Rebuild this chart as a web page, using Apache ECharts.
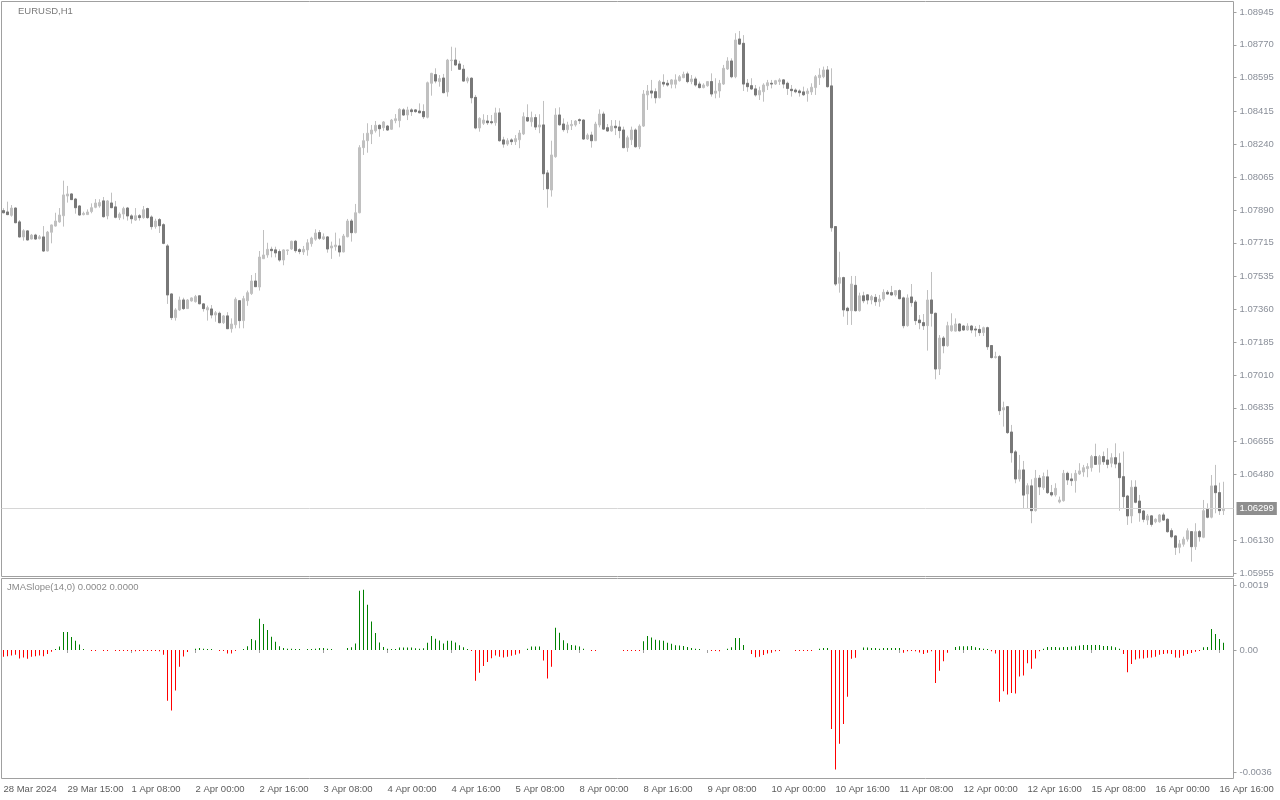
<!DOCTYPE html>
<html><head><meta charset="utf-8">
<script src="https://cdn.jsdelivr.net/npm/echarts@6/dist/echarts.min.js"></script>
<style>html,body{margin:0;padding:0;background:#fff}#c{width:1280px;height:800px}</style>
</head><body><div id="c"></div>
<script>
const symbolTitle = 'EURUSD,H1';
const indicatorTitle = 'JMASlope(14,0) 0.0002 0.0000';
const tickLabels = ['28 Mar 2024','29 Mar 15:00','1 Apr 08:00','2 Apr 00:00','2 Apr 16:00','3 Apr 08:00','4 Apr 00:00','4 Apr 16:00','5 Apr 08:00','8 Apr 00:00','8 Apr 16:00','9 Apr 08:00','10 Apr 00:00','10 Apr 16:00','11 Apr 08:00','12 Apr 00:00','12 Apr 16:00','15 Apr 08:00','16 Apr 00:00','16 Apr 16:00'];
const barsPerLabel = 16;
const priceTicks = [1.08945,1.08770,1.08595,1.08415,1.08240,1.08065,1.07890,1.07715,1.07535,1.07360,1.07185,1.07010,1.06835,1.06655,1.06480,1.06130,1.05955];
const slopeTicks = [0.0019, 0, -0.0036];
const slopeTickLabels = ['0.0019', '0.00', '-0.0036'];
const lastPrice = 1.06299;

const opens = [1.07886,1.07879,1.07861,1.07900,1.07826,1.07746,1.07778,1.07735,1.07756,1.07737,
1.07746,1.07671,1.07771,1.07804,1.07826,1.07859,1.07964,1.07975,1.07948,1.07911,
1.07865,1.07865,1.07881,1.07904,1.07911,1.07938,1.07858,1.07927,1.07906,1.07849,
1.07868,1.07900,1.07858,1.07836,1.07859,1.07849,1.07897,1.07852,1.07801,1.07838,
1.07811,1.07698,1.07442,1.07316,1.07357,1.07410,1.07364,1.07405,1.07401,1.07432,
1.07389,1.07357,1.07362,1.07330,1.07339,1.07289,1.07325,1.07257,1.07278,1.07406,
1.07300,1.07406,1.07444,1.07511,1.07479,1.07630,1.07650,1.07680,1.07677,1.07668,
1.07623,1.07673,1.07682,1.07723,1.07678,1.07666,1.07677,1.07710,1.07734,1.07769,
1.07735,1.07746,1.07687,1.07694,1.07698,1.07666,1.07747,1.07831,1.07769,1.07875,
1.08222,1.08259,1.08295,1.08312,1.08341,1.08328,1.08337,1.08320,1.08366,1.08366,
1.08423,1.08396,1.08423,1.08423,1.08417,1.08414,1.08384,1.08565,1.08611,1.08574,
1.08593,1.08519,1.08686,1.08689,1.08668,1.08640,1.08577,1.08592,1.08490,1.08327,
1.08352,1.08364,1.08360,1.08355,1.08407,1.08263,1.08241,1.08263,1.08254,1.08264,
1.08295,1.08382,1.08360,1.08382,1.08332,1.08343,1.08087,1.07996,1.08174,1.08396,
1.08348,1.08318,1.08339,1.08343,1.08371,1.08369,1.08268,1.08289,1.08259,1.08343,
1.08401,1.08328,1.08311,1.08336,1.08332,1.08316,1.08222,1.08264,1.08316,1.08227,
1.08337,1.08503,1.08524,1.08520,1.08488,1.08570,1.08565,1.08560,1.08560,1.08579,
1.08595,1.08615,1.08574,1.08588,1.08561,1.08542,1.08552,1.08574,1.08512,1.08524,
1.08561,1.08641,1.08684,1.08600,1.08801,1.08778,1.08565,1.08552,1.08535,1.08503,
1.08520,1.08552,1.08565,1.08561,1.08574,1.08583,1.08565,1.08533,1.08529,1.08524,
1.08519,1.08510,1.08519,1.08542,1.08595,1.08600,1.08636,1.08551,1.07801,1.07499,
1.07529,1.07366,1.07353,1.07488,1.07353,1.07432,1.07437,1.07410,1.07424,1.07401,
1.07415,1.07451,1.07449,1.07437,1.07460,1.07421,1.07273,1.07426,1.07399,1.07303,
1.07289,1.07273,1.07410,1.07339,1.07042,1.07207,1.07166,1.07246,1.07244,1.07282,
1.07271,1.07250,1.07271,1.07255,1.07253,1.07236,1.07262,1.07167,1.07103,1.07108,
1.06824,1.06841,1.06706,1.06600,1.06456,1.06504,1.06376,1.06419,1.06287,1.06460,
1.06410,1.06467,1.06383,1.06371,1.06333,1.06340,1.06486,1.06456,1.06447,1.06483,
1.06493,1.06511,1.06516,1.06575,1.06534,1.06575,1.06557,1.06540,1.06569,1.06540,
1.06468,1.06365,1.06259,1.06412,1.06338,1.06285,1.06237,1.06259,1.06228,1.06228,
1.06264,1.06241,1.06180,1.06152,1.06092,1.06108,1.06135,1.06175,1.06095,1.06175,
1.06145,1.06294,1.06252,1.06419,1.06383,1.06287];

const closes = [1.07875,1.07865,1.07900,1.07822,1.07746,1.07779,1.07730,1.07756,1.07735,1.07747,
1.07671,1.07772,1.07810,1.07831,1.07863,1.07970,1.07975,1.07945,1.07902,1.07863,
1.07872,1.07879,1.07902,1.07927,1.07929,1.07854,1.07938,1.07902,1.07851,1.07868,
1.07897,1.07858,1.07843,1.07859,1.07849,1.07891,1.07849,1.07801,1.07831,1.07806,
1.07712,1.07437,1.07316,1.07357,1.07410,1.07364,1.07410,1.07421,1.07428,1.07390,
1.07364,1.07369,1.07330,1.07342,1.07289,1.07325,1.07257,1.07282,1.07414,1.07300,
1.07417,1.07449,1.07511,1.07481,1.07639,1.07650,1.07680,1.07673,1.07661,1.07623,
1.07677,1.07677,1.07723,1.07673,1.07668,1.07680,1.07715,1.07740,1.07767,1.07739,
1.07747,1.07682,1.07698,1.07703,1.07666,1.07751,1.07831,1.07769,1.07875,1.08222,
1.08259,1.08299,1.08316,1.08341,1.08323,1.08359,1.08316,1.08369,1.08376,1.08426,
1.08396,1.08423,1.08414,1.08414,1.08408,1.08387,1.08568,1.08618,1.08577,1.08590,
1.08515,1.08689,1.08689,1.08663,1.08640,1.08577,1.08592,1.08488,1.08327,1.08378,
1.08369,1.08355,1.08355,1.08407,1.08259,1.08241,1.08259,1.08254,1.08270,1.08300,
1.08387,1.08364,1.08382,1.08332,1.08343,1.08083,1.08003,1.08183,1.08396,1.08344,
1.08318,1.08343,1.08346,1.08364,1.08366,1.08268,1.08289,1.08259,1.08348,1.08401,
1.08321,1.08311,1.08337,1.08328,1.08313,1.08222,1.08275,1.08316,1.08227,1.08337,
1.08508,1.08524,1.08513,1.08488,1.08574,1.08561,1.08556,1.08583,1.08583,1.08600,
1.08613,1.08574,1.08588,1.08556,1.08542,1.08556,1.08574,1.08508,1.08524,1.08565,
1.08645,1.08684,1.08600,1.08796,1.08774,1.08561,1.08547,1.08535,1.08503,1.08526,
1.08556,1.08568,1.08561,1.08579,1.08583,1.08561,1.08538,1.08526,1.08520,1.08515,
1.08504,1.08524,1.08544,1.08600,1.08609,1.08636,1.08547,1.07795,1.07495,1.07529,
1.07357,1.07353,1.07495,1.07353,1.07432,1.07406,1.07410,1.07428,1.07401,1.07415,
1.07451,1.07442,1.07437,1.07460,1.07417,1.07273,1.07421,1.07396,1.07300,1.07289,
1.07273,1.07410,1.07339,1.07042,1.07207,1.07166,1.07273,1.07273,1.07282,1.07246,
1.07250,1.07271,1.07250,1.07250,1.07236,1.07262,1.07161,1.07103,1.07108,1.06820,
1.06836,1.06703,1.06596,1.06456,1.06504,1.06370,1.06420,1.06287,1.06460,1.06414,
1.06469,1.06383,1.06371,1.06406,1.06344,1.06486,1.06451,1.06447,1.06486,1.06499,
1.06516,1.06522,1.06575,1.06534,1.06575,1.06548,1.06534,1.06569,1.06536,1.06463,
1.06362,1.06259,1.06412,1.06332,1.06276,1.06241,1.06259,1.06214,1.06241,1.06264,
1.06237,1.06175,1.06148,1.06092,1.06110,1.06135,1.06180,1.06095,1.06175,1.06148,
1.06287,1.06252,1.06419,1.06383,1.06287,1.06299];

const lows = [1.07872,1.07863,1.07854,1.07819,1.07744,1.07726,1.07728,1.07733,1.07731,1.07733,
1.07666,1.07669,1.07712,1.07801,1.07822,1.07801,1.07929,1.07943,1.07870,1.07859,
1.07861,1.07863,1.07872,1.07899,1.07902,1.07849,1.07840,1.07900,1.07845,1.07836,
1.07840,1.07833,1.07817,1.07831,1.07833,1.07843,1.07843,1.07785,1.07790,1.07767,
1.07707,1.07389,1.07303,1.07300,1.07352,1.07357,1.07362,1.07401,1.07396,1.07387,
1.07348,1.07300,1.07312,1.07294,1.07286,1.07282,1.07255,1.07236,1.07259,1.07259,
1.07259,1.07379,1.07437,1.07479,1.07460,1.07629,1.07635,1.07637,1.07637,1.07614,
1.07595,1.07650,1.07677,1.07662,1.07654,1.07650,1.07646,1.07694,1.07726,1.07730,
1.07730,1.07662,1.07629,1.07673,1.07641,1.07664,1.07744,1.07721,1.07765,1.07872,
1.08183,1.08195,1.08241,1.08302,1.08280,1.08311,1.08312,1.08316,1.08352,1.08330,
1.08391,1.08369,1.08391,1.08408,1.08405,1.08375,1.08378,1.08499,1.08565,1.08547,
1.08512,1.08494,1.08631,1.08657,1.08636,1.08574,1.08565,1.08458,1.08320,1.08307,
1.08343,1.08343,1.08346,1.08339,1.08254,1.08222,1.08232,1.08236,1.08236,1.08219,
1.08289,1.08360,1.08334,1.08316,1.08299,1.07996,1.07902,1.07961,1.08168,1.08339,
1.08307,1.08299,1.08316,1.08334,1.08348,1.08263,1.08263,1.08222,1.08257,1.08330,
1.08316,1.08307,1.08307,1.08289,1.08272,1.08219,1.08200,1.08236,1.08222,1.08214,
1.08332,1.08423,1.08485,1.08458,1.08485,1.08547,1.08547,1.08538,1.08538,1.08574,
1.08592,1.08565,1.08560,1.08547,1.08538,1.08538,1.08547,1.08494,1.08485,1.08488,
1.08556,1.08636,1.08592,1.08592,1.08769,1.08524,1.08520,1.08529,1.08494,1.08476,
1.08467,1.08529,1.08538,1.08556,1.08556,1.08538,1.08503,1.08494,1.08512,1.08494,
1.08497,1.08467,1.08503,1.08503,1.08556,1.08592,1.08542,1.07774,1.07485,1.07449,
1.07321,1.07277,1.07277,1.07348,1.07348,1.07393,1.07387,1.07387,1.07379,1.07374,
1.07406,1.07437,1.07432,1.07428,1.07414,1.07259,1.07268,1.07374,1.07277,1.07254,
1.07250,1.07140,1.07268,1.06987,1.07010,1.07126,1.07161,1.07241,1.07241,1.07241,
1.07246,1.07246,1.07233,1.07214,1.07218,1.07218,1.07144,1.07098,1.07098,1.06797,
1.06735,1.06696,1.06543,1.06433,1.06442,1.06300,1.06300,1.06220,1.06282,1.06370,
1.06398,1.06376,1.06362,1.06362,1.06326,1.06335,1.06424,1.06419,1.06383,1.06477,
1.06468,1.06465,1.06495,1.06531,1.06490,1.06531,1.06513,1.06518,1.06513,1.06286,
1.06300,1.06211,1.06220,1.06326,1.06228,1.06225,1.06211,1.06202,1.06220,1.06223,
1.06234,1.06170,1.06140,1.06051,1.06060,1.06095,1.06122,1.06015,1.06078,1.06122,
1.06140,1.06246,1.06246,1.06273,1.06264,1.06264];

const highs = [1.07899,1.07934,1.07916,1.07903,1.07836,1.07787,1.07782,1.07762,1.07763,1.07756,
1.07804,1.07778,1.07812,1.07875,1.07900,1.08046,1.08018,1.07979,1.07954,1.07916,
1.07881,1.07893,1.07925,1.07948,1.07947,1.07959,1.07943,1.07982,1.07938,1.07877,
1.07907,1.07906,1.07867,1.07900,1.07868,1.07911,1.07902,1.07861,1.07843,1.07847,
1.07819,1.07708,1.07445,1.07366,1.07428,1.07422,1.07415,1.07424,1.07437,1.07433,
1.07393,1.07380,1.07383,1.07351,1.07348,1.07330,1.07345,1.07312,1.07424,1.07410,
1.07432,1.07460,1.07543,1.07554,1.07671,1.07783,1.07715,1.07694,1.07694,1.07680,
1.07680,1.07678,1.07726,1.07730,1.07686,1.07698,1.07734,1.07747,1.07787,1.07783,
1.07765,1.07751,1.07721,1.07769,1.07738,1.07762,1.07842,1.07842,1.07922,1.08235,
1.08299,1.08352,1.08343,1.08364,1.08346,1.08364,1.08343,1.08375,1.08401,1.08432,
1.08432,1.08440,1.08432,1.08428,1.08458,1.08453,1.08574,1.08621,1.08645,1.08609,
1.08615,1.08695,1.08760,1.08755,1.08685,1.08663,1.08600,1.08597,1.08503,1.08384,
1.08400,1.08396,1.08396,1.08435,1.08432,1.08280,1.08272,1.08272,1.08289,1.08316,
1.08410,1.08453,1.08414,1.08400,1.08400,1.08471,1.08103,1.08259,1.08432,1.08437,
1.08378,1.08360,1.08369,1.08369,1.08378,1.08373,1.08298,1.08307,1.08360,1.08426,
1.08414,1.08348,1.08369,1.08369,1.08366,1.08334,1.08286,1.08334,1.08325,1.08346,
1.08529,1.08556,1.08583,1.08538,1.08583,1.08613,1.08583,1.08588,1.08613,1.08609,
1.08627,1.08627,1.08609,1.08600,1.08574,1.08565,1.08577,1.08618,1.08592,1.08583,
1.08663,1.08704,1.08698,1.08832,1.08844,1.08822,1.08588,1.08592,1.08556,1.08547,
1.08565,1.08583,1.08583,1.08583,1.08592,1.08588,1.08574,1.08556,1.08538,1.08533,
1.08547,1.08538,1.08565,1.08609,1.08645,1.08654,1.08657,1.08645,1.07804,1.07667,
1.07534,1.07374,1.07538,1.07538,1.07449,1.07454,1.07442,1.07437,1.07442,1.07437,
1.07467,1.07463,1.07485,1.07463,1.07467,1.07428,1.07440,1.07495,1.07410,1.07330,
1.07335,1.07463,1.07559,1.07342,1.07223,1.07218,1.07294,1.07339,1.07312,1.07286,
1.07277,1.07286,1.07277,1.07271,1.07277,1.07268,1.07268,1.07170,1.07134,1.07117,
1.06868,1.06845,1.06744,1.06610,1.06584,1.06552,1.06433,1.06454,1.06504,1.06477,
1.06490,1.06505,1.06424,1.06433,1.06362,1.06504,1.06495,1.06486,1.06504,1.06540,
1.06531,1.06540,1.06584,1.06644,1.06584,1.06602,1.06620,1.06593,1.06646,1.06593,
1.06602,1.06371,1.06449,1.06449,1.06371,1.06291,1.06269,1.06264,1.06246,1.06269,
1.06276,1.06246,1.06193,1.06157,1.06131,1.06148,1.06193,1.06178,1.06220,1.06184,
1.06344,1.06326,1.06477,1.06531,1.06436,1.06441];

const slope = [-0.00020,-0.00018,-0.00016,-0.00014,-0.00025,-0.00022,-0.00026,-0.00020,-0.00018,-0.00016,
-0.00018,-0.00012,-0.00005,0.00002,0.00010,0.00053,0.00053,0.00038,0.00027,0.00016,
0.00003,0,-0.00002,-0.00002,0,-0.00002,-0.00002,0,-0.00002,-0.00002,
-0.00002,-0.00002,-0.00003,-0.00004,-0.00003,-0.00002,-0.00002,-0.00002,-0.00003,-0.00004,
-0.00014,-0.00149,-0.00178,-0.00119,-0.00049,-0.00019,-0.00006,0,0.00004,0.00006,
0.00004,0.00002,0.00001,0,-0.00003,-0.00003,-0.00010,-0.00010,-0.00001,0,
0.00003,0.00011,0.00032,0.00029,0.00092,0.00076,0.00059,0.00039,0.00024,0.00011,
0.00006,0.00004,0.00004,0.00003,0.00001,0,0.00002,0.00002,0.00004,0.00006,
0.00006,0.00004,0.00001,0,0,0,0.00006,0.00008,0.00019,0.00174,
0.00177,0.00133,0.00084,0.00050,0.00022,0.00009,0.00004,0.00001,0.00002,0.00007,
0.00007,0.00007,0.00007,0.00005,0.00004,0.00005,0.00021,0.00041,0.00033,0.00028,
0.00019,0.00027,0.00027,0.00022,0.00014,0.00008,0.00002,-0.00002,-0.00090,-0.00067,
-0.00047,-0.00035,-0.00024,-0.00016,-0.00020,-0.00022,-0.00020,-0.00017,-0.00014,-0.00010,
0,0.00004,0.00010,0.00010,0.00010,-0.00031,-0.00084,-0.00049,0.00065,0.00051,
0.00029,0.00020,0.00015,0.00013,0.00010,0.00004,0,-0.00002,-0.00002,0,
0,0,0,0,0,-0.00003,-0.00003,-0.00003,-0.00003,-0.00003,
0.00026,0.00041,0.00037,0.00030,0.00029,0.00027,0.00021,0.00018,0.00014,0.00013,
0.00012,0.00009,0.00006,0.00004,0.00002,0,0,-0.00003,-0.00003,-0.00004,
0,0.00004,0.00008,0.00035,0.00035,0.00015,0,-0.00012,-0.00021,-0.00020,
-0.00015,-0.00010,-0.00007,-0.00004,-0.00002,0,0,0,-0.00002,-0.00002,
-0.00002,-0.00002,-0.00002,0,0.00004,0.00006,0.00006,-0.00232,-0.00351,-0.00275,
-0.00217,-0.00137,-0.00026,-0.00023,0,0.00007,0.00007,0.00006,0.00006,0.00004,
0.00006,0.00006,0.00006,0.00006,0.00006,-0.00008,-0.00004,-0.00002,-0.00004,-0.00007,
-0.00012,-0.00008,-0.00004,-0.00097,-0.00061,-0.00033,-0.00008,0,0.00009,0.00011,
0.00011,0.00011,0.00012,0.00008,0.00006,0.00004,0.00001,-0.00004,-0.00010,-0.00152,
-0.00121,-0.00131,-0.00126,-0.00128,-0.00078,-0.00075,-0.00039,-0.00055,-0.00025,-0.00004,
0.00004,0.00009,0.00009,0.00009,0.00007,0.00009,0.00009,0.00010,0.00011,0.00013,
0.00015,0.00015,0.00015,0.00015,0.00015,0.00012,0.00012,0.00011,0.00008,0.00004,
-0.00012,-0.00065,-0.00041,-0.00028,-0.00025,-0.00025,-0.00023,-0.00022,-0.00020,-0.00014,
-0.00012,-0.00010,-0.00012,-0.00022,-0.00023,-0.00017,-0.00012,-0.00009,-0.00005,-0.00002,
0.00008,0.00009,0.00062,0.00047,0.00032,0.00021];

const N = opens.length;
const categories = Array.from({length: N + 2}, (_, i) => String(i));
const candleAll = opens.map((o, i) => [o, closes[i], lows[i], highs[i]]);
const bearBodies = opens.map((o, i) => closes[i] < o ? [o, closes[i], closes[i], o] : '-');
const slopeData = slope.map(v => v === 0 ? '-' : v);
const emptyLine = categories.map(() => '-');

const FONT = 'Liberation Sans';
const FS = 9.5;
const chart = echarts.init(document.getElementById('c'), null, {renderer: 'canvas'});
chart.setOption({
  animation: false,
  backgroundColor: '#ffffff',
  textStyle: {fontFamily: FONT},
  grid: [
    {left: 1.5, top: 1.5, width: 1232, height: 575, show: true, borderColor: '#a0a0a0', borderWidth: 1, containLabel: false},
    {left: 1.5, top: 578.5, width: 1232, height: 200, show: true, borderColor: '#a0a0a0', borderWidth: 1, containLabel: false}
  ],
  xAxis: [
    {type: 'category', gridIndex: 0, data: categories, boundaryGap: true,
     axisLine: {show: false}, axisTick: {show: false}, axisLabel: {show: false}, splitLine: {show: false}},
    {type: 'category', gridIndex: 1, data: categories, boundaryGap: true,
     axisLine: {show: false},
     axisTick: {show: true, interval: barsPerLabel - 1, alignWithLabel: true, length: 3, lineStyle: {color: '#a0a0a0'}},
     axisLabel: {show: true, interval: barsPerLabel - 1, align: 'left', margin: 6, fontSize: FS, color: '#5c5c5c', fontFamily: FONT,
       formatter: (v, i) => (i % barsPerLabel === 0 && tickLabels[i / barsPerLabel]) ? tickLabels[i / barsPerLabel] : ''},
     splitLine: {show: false}}
  ],
  yAxis: [
    {type: 'value', gridIndex: 0, position: 'right', min: 1.05936, max: 1.09001, scale: true,
     splitLine: {show: false}, axisLine: {show: false},
     axisTick: {show: true, customValues: priceTicks, length: 3, lineStyle: {color: '#a0a0a0'}},
     axisLabel: {customValues: priceTicks, formatter: v => v.toFixed(5), margin: 6, fontSize: FS, color: '#8a8f99', fontFamily: FONT}},
    {type: 'value', gridIndex: 1, position: 'right', min: -0.003774, max: 0.0021, scale: true,
     splitLine: {show: false}, axisLine: {show: false},
     axisTick: {show: true, customValues: slopeTicks, length: 3, lineStyle: {color: '#a0a0a0'}},
     axisLabel: {customValues: slopeTicks, margin: 6, fontSize: FS, color: '#8a8f99', fontFamily: FONT,
       formatter: v => {
         let best = 0;
         slopeTicks.forEach((t, k) => { if (Math.abs(t - v) < Math.abs(slopeTicks[best] - v)) best = k; });
         return slopeTickLabels[best];
       }}}
  ],
  series: [
    {type: 'line', xAxisIndex: 0, yAxisIndex: 0, data: emptyLine, symbol: 'none', silent: true,
     lineStyle: {width: 0}, z: 1,
     markLine: {silent: true, symbol: ['none', 'none'], animation: false, precision: 5,
       lineStyle: {color: '#d6d6d6', width: 1, type: 'solid'},
       label: {show: true, position: 'end', distance: 3, formatter: lastPrice.toFixed(5), color: '#ffffff',
         backgroundColor: '#8e8e8e', padding: [2, 3, 1, 3], fontSize: FS, fontFamily: FONT},
       data: [{yAxis: lastPrice}]}},
    {type: 'candlestick', xAxisIndex: 0, yAxisIndex: 0, data: candleAll, barWidth: 2, z: 2,
     itemStyle: {color: '#c0c0c0', color0: '#c0c0c0', borderColor: '#c0c0c0', borderColor0: '#c0c0c0', borderWidth: 1}},
    {type: 'candlestick', xAxisIndex: 0, yAxisIndex: 0, data: bearBodies, barWidth: 2, z: 3,
     itemStyle: {color: '#787878', color0: '#787878', borderColor: '#787878', borderColor0: '#787878', borderWidth: 1}},
    {type: 'bar', xAxisIndex: 1, yAxisIndex: 1, data: slopeData, barWidth: 1, barMinHeight: 1,
     itemStyle: {color: p => (p.value >= 0 ? '#008000' : '#ff0000')}}
  ],
  graphic: [
    {type: 'text', left: 18, top: 6, style: {text: symbolTitle, font: FS + 'px "' + FONT + '"', fill: '#7a7a7a'}},
    {type: 'text', left: 7, top: 582, style: {text: indicatorTitle, font: FS + 'px "' + FONT + '"', fill: '#8a8a8a'}}
  ]
});
</script>
</body></html>
